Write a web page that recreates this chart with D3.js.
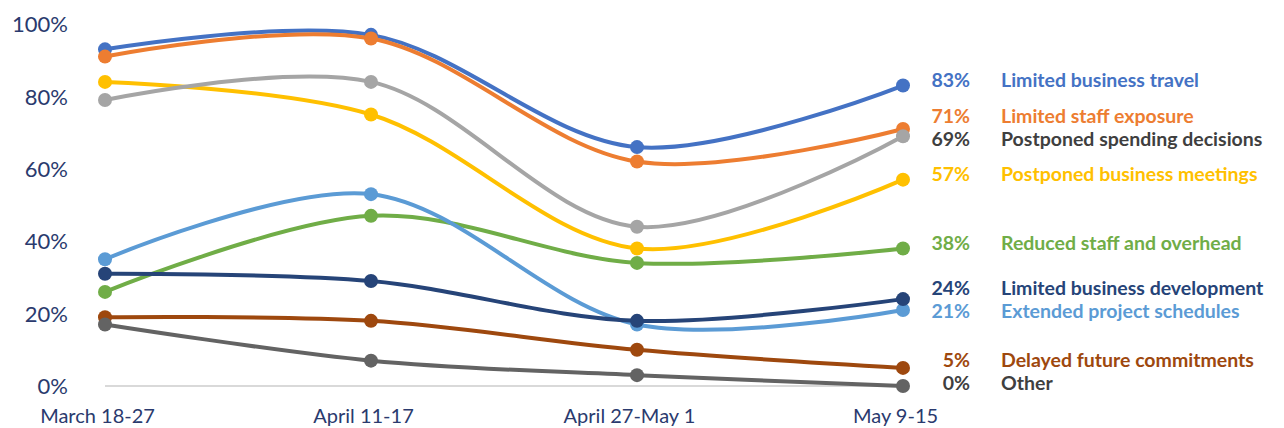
<!DOCTYPE html>
<html>
<head>
<meta charset="utf-8">
<script src="https://cdn.jsdelivr.net/npm/d3@7"></script>
<style>
  html, body { margin: 0; padding: 0; background: #ffffff; }
  svg { display: block; }
</style>
</head>
<body>
<svg id="chart" width="1284" height="428"></svg>
<script>
// ---- data ----
const categories = ["March 18-27", "April 11-17", "April 27-May 1", "May 9-15"];
const seriesNames = [
  "Limited business travel",
  "Limited staff exposure",
  "Postponed spending decisions",
  "Postponed business meetings",
  "Reduced staff and overhead",
  "Extended project schedules",
  "Limited business development",
  "Delayed future commitments",
  "Other"
];
const travel      = [93, 97, 66, 83];
const exposure    = [91, 96, 62, 71];
const spending    = [79, 84, 44, 69];
const meetings    = [84, 75, 38, 57];
const reduced     = [26, 47, 34, 38];
const schedules   = [35, 53, 17, 21];
const development = [31, 29, 18, 24];
const commitments = [19, 18, 10, 5];
const other       = [17, 7, 3, 0];
const yTicks = [0, 20, 40, 60, 80, 100];

// ---- styles ----
const lineColors  = ["#4472C4", "#ED7D31", "#A5A5A5", "#FFC000", "#70AD47", "#5B9BD5", "#264478", "#9E480E", "#636363"];
const labelColors = ["#4472C4", "#ED7D31", "#3F3F3F", "#FFC000", "#70AD47", "#5B9BD5", "#264478", "#9E480E", "#3F3F3F"];
const seriesValues = [travel, exposure, spending, meetings, reduced, schedules, development, commitments, other];
const drawOrder = [0, 1, 3, 2, 4, 5, 6, 7, 8];

const series = seriesNames.map((name, i) => ({
  name, values: seriesValues[i], line: lineColors[i], label: labelColors[i]
}));

const svg = d3.select("#chart");
const axisColor = "#2A3A6E";

const x = d3.scalePoint().domain(categories).range([105, 903]);
const y = d3.scaleLinear().domain([0, 100]).range([386, 24]);

// baseline
svg.append("line")
  .attr("x1", x(categories[0])).attr("x2", x(categories[categories.length - 1]))
  .attr("y1", y(0)).attr("y2", y(0))
  .attr("stroke", "#D9D9D9").attr("stroke-width", 2);

// y tick labels
const yAxis = d3.axisLeft(y).tickValues(yTicks).tickFormat(d => d + "%").tickSize(0).tickPadding(0);
const gy = svg.append("g").attr("transform", "translate(68,0)").call(yAxis);
gy.select(".domain").remove();
gy.selectAll("text")
  .attr("fill", axisColor)
  .style("font-family", "Lato, 'Open Sans', sans-serif")
  .style("font-size", "22px")
  .attr("dy", "0.35em");

// x tick labels
const xAxis = d3.axisBottom(x).tickSize(0).tickPadding(0);
const gx = svg.append("g").attr("transform", "translate(-8,416)").call(xAxis);
gx.select(".domain").remove();
gx.selectAll("text")
  .attr("fill", axisColor)
  .attr("dy", "0.35em")
  .style("font-family", "Lato, 'Open Sans', sans-serif")
  .style("font-size", "20px");

// lines
const line = d3.line()
  .x((d, i) => x(categories[i]))
  .y(d => y(d))
  .curve(d3.curveCatmullRom.alpha(0.5));

const g = svg.append("g");
drawOrder.forEach(i => {
  const s = series[i];
  g.append("path")
    .datum(s.values)
    .attr("d", line)
    .attr("fill", "none")
    .attr("stroke", s.line)
    .attr("stroke-width", 4)
    .attr("stroke-linecap", "round");
  g.selectAll(null)
    .data(s.values)
    .enter().append("circle")
    .attr("cx", (d, j) => x(categories[j]))
    .attr("cy", d => y(d))
    .attr("r", 7)
    .attr("fill", s.line);
});

// end labels with simple collision avoidance
const lastIdx = categories.length - 1;
const labels = series.map(s => ({ s, v: s.values[lastIdx], pos: y(s.values[lastIdx]) - 5 }))
  .sort((a, b) => a.pos - b.pos);
const gap = 23;
for (let iter = 0; iter < 50; iter++) {
  let moved = false;
  for (let k = 1; k < labels.length; k++) {
    const d = labels[k].pos - labels[k - 1].pos;
    if (d < gap) {
      const shift = (gap - d) / 2;
      labels[k - 1].pos -= shift;
      labels[k].pos += shift;
      moved = true;
    }
  }
  if (!moved) break;
}

const lg = svg.append("g")
  .style("font-family", "Lato, 'Open Sans', sans-serif")
  .style("font-weight", "700")
  .style("font-size", "19.5px");
labels.forEach(l => {
  lg.append("text")
    .attr("x", 970).attr("y", l.pos).attr("dy", "0.35em")
    .attr("text-anchor", "end")
    .attr("fill", l.s.label)
    .text(l.v + "%");
  lg.append("text")
    .attr("x", 1001).attr("y", l.pos).attr("dy", "0.35em")
    .attr("fill", l.s.label)
    .text(l.s.name);
});
</script>
</body>
</html>
